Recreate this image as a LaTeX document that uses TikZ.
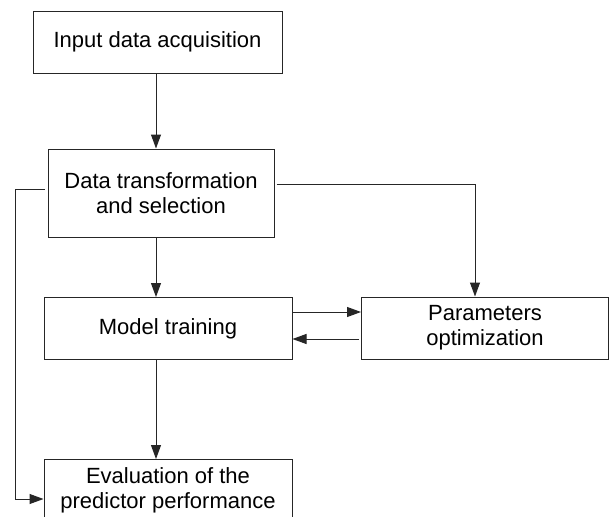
\documentclass[tikz,border=0pt]{standalone}
\usepackage{fontspec}
\setmainfont{Liberation Sans}
\usetikzlibrary{arrows.meta}
\begin{document}
\begin{tikzpicture}[x=1pt,y=-1pt,
  box/.style={draw=black!85, line width=1pt, rectangle, inner sep=0pt, align=center,
    font=\fontsize{22}{25}\selectfont},
  conn/.style={draw=black!85, line width=1pt},
  arr/.style={conn, -{Triangle[length=14pt,width=10pt]}}]
\clip (0,0) rectangle (614,517);
\fill[white] (0,0) rectangle (614,517);
\path (156,0) coordinate (colA) (475,0) coordinate (colB) (15,0) coordinate (colL);
\node[box, minimum width=249pt, minimum height=62pt] (in) at (157.5,42) {Input data acquisition};
\node[box, minimum width=226pt, minimum height=88pt] (dt) at (161,193) {Data transformation\\and selection};
\node[box, minimum width=248pt, minimum height=62pt] (mt) at (168,328.5) {Model training};
\node[box, minimum width=247pt, minimum height=62pt] (po) at (485,328) {Parameters\\optimization};
\node[box, minimum width=248pt, anchor=north, inner ysep=8pt] (ev) at (168,459) {Evaluation of the\\predictor performance};
\path (0,499) coordinate (evy);
% connectors
\draw[arr] (in.south -| colA) -- (dt.north -| colA);
\draw[arr] (dt.south -| colA) -- (mt.north -| colA);
\draw[arr] (mt.south -| colA) -- (ev.north -| colA);
\draw[arr, shorten <=2pt] ([yshift=9pt]dt.east) -| (po.north -| colB);
\draw[arr, shorten <=3pt] ([yshift=4pt]dt.west) -| (colL |- evy) -- (ev.west |- evy);
\draw[arr] ([yshift=16.5pt]mt.east) -- ([yshift=16.5pt]mt.east -| po.west);
\draw[arr, shorten <=2pt] ([yshift=-11pt]po.west) -- ([yshift=-11pt]po.west -| mt.east);
\end{tikzpicture}
\end{document}
